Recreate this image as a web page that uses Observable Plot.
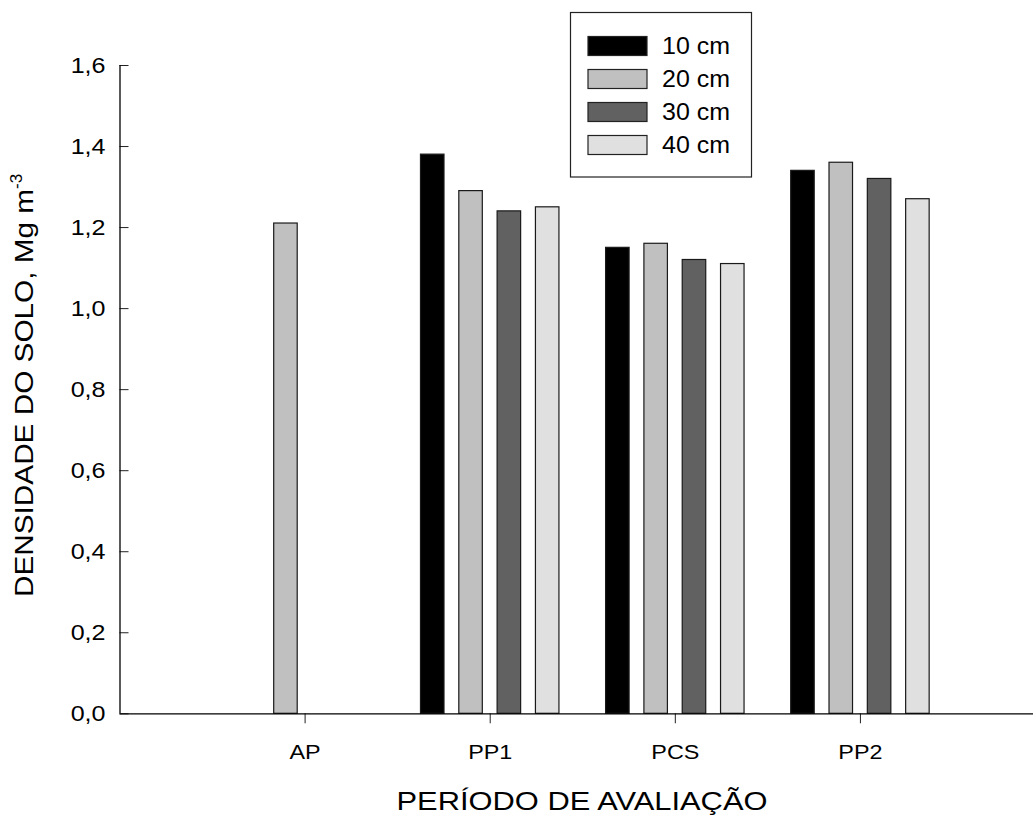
<!DOCTYPE html>
<html>
<head>
<meta charset="utf-8">
<script src="https://cdn.jsdelivr.net/npm/d3@7"></script>
<script src="https://cdn.jsdelivr.net/npm/@observablehq/plot@0.6"></script>
<style>
  html, body { margin: 0; padding: 0; background: #fff; }
  #chart svg { display: block; font-family: "Liberation Sans", Arial, Helvetica, sans-serif; }
</style>
</head>
<body>
<div id="chart"></div>
<script>
// ---- data ----
const periods = ["AP", "PP1", "PCS", "PP2"];
const depths = ["10 cm", "20 cm", "30 cm", "40 cm"];
const depth10 = [null, 1.38, 1.15, 1.34];
const depth20 = [1.21, 1.29, 1.16, 1.36];
const depth30 = [null, 1.24, 1.12, 1.32];
const depth40 = [null, 1.25, 1.11, 1.27];
const yTicks = [0, 0.2, 0.4, 0.6, 0.8, 1.0, 1.2, 1.4, 1.6];
const colors = ["#000000", "#c0c0c0", "#616161", "#e0e0e0"];

const series = [depth10, depth20, depth30, depth40];
const step = 0.207, barW = 0.127;
const rows = [];
periods.forEach((p, i) => {
  series.forEach((s, j) => {
    if (s[i] != null) rows.push({period: p, depth: depths[j], value: s[i], pos: i + 1 + (j - 1.5) * step});
  });
});

const W = 1035, H = 820;
const fmt = d => d.toFixed(1).replace(".", ",");

const plot = Plot.plot({
  width: W, height: H,
  marginLeft: 119.5, marginRight: 2, marginTop: 65, marginBottom: 106.7,
  style: {fontFamily: '"Liberation Sans", Arial, sans-serif', color: "#000", background: "#fff"},
  x: {type: "linear", domain: [0, 4.935]},
  y: {domain: [0, 1.6]},
  color: {domain: depths, range: colors},
  marks: [
    Plot.rectY(rows, {x1: d => d.pos - barW / 2, x2: d => d.pos + barW / 2, y: "value", fill: "depth", stroke: "#1a1a1a", strokeWidth: 1.2}),
    Plot.axisX({ticks: [1, 2, 3, 4], tickFormat: d => periods[d - 1], tickSize: 10, tickPadding: 20.5, fontSize: 20.5, label: null, stroke: "#222"}),
    Plot.axisY({ticks: yTicks, tickFormat: fmt, tickSize: -9, tickPadding: 23.5, fontSize: 22, label: null, stroke: "#222"}),
    Plot.ruleY([0], {stroke: "#000", strokeWidth: 1.3}),
    Plot.ruleX([0], {y1: 0, y2: 1.6, stroke: "#000", strokeWidth: 1.3})
  ]
});

document.getElementById("chart").appendChild(plot);
const svg = d3.select(plot);
svg.selectAll("g").filter(function () {
  const a = this.getAttribute("aria-label") || "";
  return a.includes("axis") && a.includes("label");
}).each(function () {
  const a = this.getAttribute("aria-label");
  const fs = a.includes("y-axis") ? "22px" : "20.5px";
  d3.select(this).style("font-size", fs).selectAll("text").each(function () {
    const t = this.getAttribute("transform");
    this.style.fontSize = fs;
    if (t && t.includes("translate")) this.setAttribute("transform", t + " scale(1.14,1)");
  });
});

// axis titles
svg.append("text")
  .attr("x", 582).attr("y", 810)
  .attr("text-anchor", "middle")
  .style("font-size", "26.5px")
  .attr("textLength", 371).attr("lengthAdjust", "spacingAndGlyphs")
  .attr("fill", "#000")
  .text("PERÍODO DE AVALIAÇÃO");

const yt = svg.append("text")
  .attr("transform", "translate(33,597) rotate(-90)")
  .attr("text-anchor", "start")
  .style("font-size", "26.5px")
  .attr("fill", "#000");
yt.append("tspan").attr("textLength", 408).attr("lengthAdjust", "spacingAndGlyphs").text("DENSIDADE DO SOLO, Mg m");
yt.append("tspan").style("font-size", "17px").attr("dy", -11).text("-3");

// legend
const lg = svg.append("g");
lg.append("rect").attr("x", 570.5).attr("y", 12.5).attr("width", 181).attr("height", 164.5)
  .attr("fill", "#fff").attr("stroke", "#222").attr("stroke-width", 1.2);
depths.forEach((d, i) => {
  const cy = 46 + i * 33;
  lg.append("rect").attr("x", 588).attr("y", cy - 9.5).attr("width", 59).attr("height", 19)
    .attr("fill", colors[i]).attr("stroke", "#222").attr("stroke-width", 1.2);
  lg.append("text").attr("x", 662).attr("y", cy).attr("dy", "0.36em")
    .attr("text-anchor", "start")
    .attr("textLength", 68).attr("lengthAdjust", "spacingAndGlyphs")
    .style("font-size", "23px").attr("fill", "#000").text(d);
});
</script>
</body>
</html>
